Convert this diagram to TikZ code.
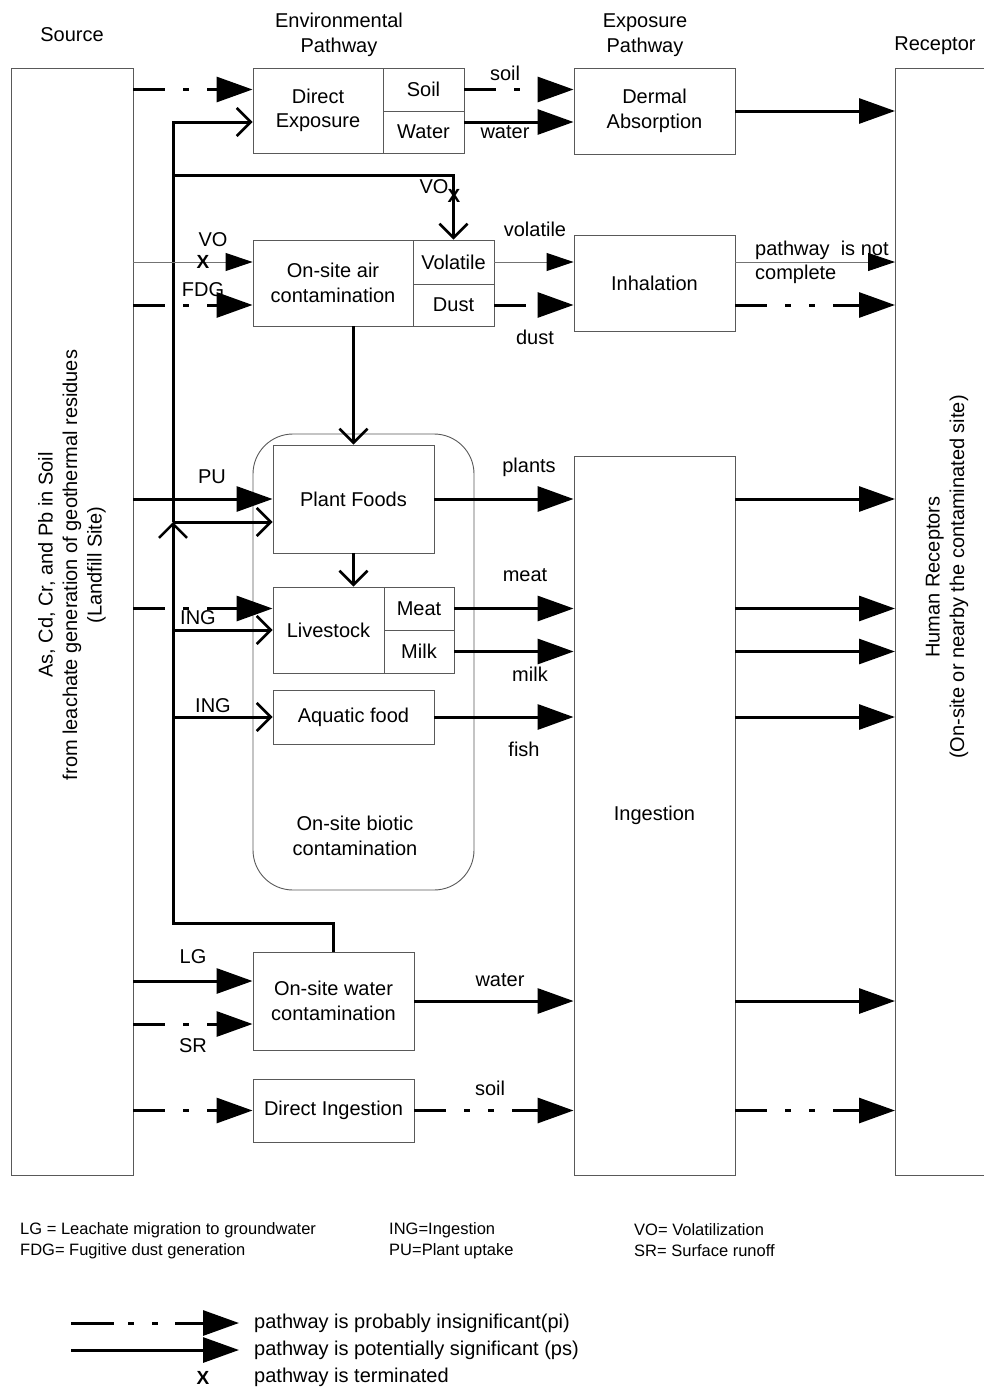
\documentclass[tikz,border=0pt]{standalone}
\usepackage{fontspec}
\setmainfont{Liberation Sans}
\usetikzlibrary{arrows.meta}
\definecolor{bx}{gray}{0.35}
\definecolor{thn}{gray}{0.45}
\newcommand\dfont{\fontsize{20}{24.5}\selectfont}
\newcommand\legfont{\fontsize{16.5}{20}\selectfont}
\newcommand\xfont{\fontsize{19}{20}\selectfont\bfseries}
\begin{document}
\begin{tikzpicture}[x=1pt,y=-1pt,
  box/.style={draw=bx, line width=0.9pt, inner sep=0pt, align=center, font=\dfont},
  lbl/.style={inner sep=0pt, align=center, font=\dfont},
  leg/.style={inner sep=0pt, anchor=west, font=\legfont},
  xmark/.style={inner sep=0pt, font=\xfont},
  ps/.style={line width=3pt, -{Triangle[length=36pt,width=25pt]}},
  pi/.style={ps, dash pattern=on 32pt off 18pt on 6pt off 18pt},
  pitwo/.style={ps, dash pattern=on 32pt off 18pt on 6pt off 18pt on 6pt off 18pt},
  thinarr/.style={line width=1pt, draw=thn, -{Triangle[length=27pt,width=18pt,color=black]}},
  openarr/.style={line width=3pt, line join=miter, -{Straight Barb[length=14pt,width=28pt,line width=2.6pt]}},
  plain/.style={line width=3pt, line join=miter}]
\clip (0,0) rectangle (984,1389);

% ---------- headers ----------
\node[lbl] (hsrc) at (72,35) {Source};
\node[lbl] (henv) at (339,35) {Environmental\\Pathway};
\node[lbl] (hexp) at (645,35) {Exposure\\Pathway};
\node[lbl] (hrec) at (935,46) {Receptor};

% ---------- source and receptor ----------
\node[box, minimum width=122pt, minimum height=1107pt] (src) at (72,621.5) {};
\node[lbl, rotate=90] (srctxt) at (72,565) {As, Cd, Cr, and Pb in Soil\\from leachate generation of geothermal residues\\(Landfill Site)};
\node[box, minimum width=200pt, minimum height=1107pt, anchor=north west] (rec) at (895,68) {};
\node[lbl, rotate=90, text depth=0pt] (rectxt) at (945,577) {Human Receptors\\(On-site or nearby the contaminated site)};

% ---------- environmental pathway boxes ----------
\node[box, minimum width=130pt, minimum height=85pt] (deL) at (318,110.5) {Direct\\Exposure};
\node[box, minimum width=81pt, minimum height=43pt] (deS) at (423.5,89.5) {Soil};
\node[box, minimum width=81pt, minimum height=42pt] (deW) at (423.5,132) {Water};

\node[box, minimum width=160pt, minimum height=86pt] (airL) at (333,283) {On-site air\\contamination};
\node[box, minimum width=81pt, minimum height=44pt] (airV) at (453.5,262) {Volatile};
\node[box, minimum width=81pt, minimum height=42pt] (airD) at (453.5,305) {Dust};

\node[box, rounded corners=40pt, minimum width=221pt, minimum height=456pt] (bio) at (363.5,662) {};
\node[lbl] (biotxt) at (355,836) {On-site biotic\\contamination};
\node[box, minimum width=161pt, minimum height=108pt] (pf) at (353.5,499) {Plant Foods};
\node[box, minimum width=111pt, minimum height=86pt] (lsL) at (328.5,630) {Livestock};
\node[box, minimum width=70pt, minimum height=43pt] (lsM) at (419,608.5) {Meat};
\node[box, minimum width=70pt, minimum height=43pt] (lsK) at (419,651.5) {Milk};
\node[box, minimum width=161pt, minimum height=54pt] (aq) at (353.5,717) {Aquatic food};

\node[box, minimum width=161pt, minimum height=98pt] (wc) at (333.5,1001) {On-site water\\contamination};
\node[box, minimum width=161pt, minimum height=63pt] (di) at (333.5,1110.5) {Direct Ingestion};

% ---------- exposure pathway boxes ----------
\node[box, minimum width=161pt, minimum height=86pt] (da) at (654.5,111) {Dermal\\Absorption};
\node[box, minimum width=161pt, minimum height=96pt] (inh) at (654.5,283) {Inhalation};
\node[box, minimum width=161pt, minimum height=719pt] (ing) at (654.5,815.5) {Ingestion};

% ---------- helper coordinates ----------
\coordinate (vx) at (173,0);
\coordinate (r122) at (0,122);
\coordinate (r175) at (0,175);
\coordinate (r522) at (0,522);
\coordinate (r923) at (0,923);
\coordinate (r981) at (0,981);
\coordinate (r1024) at (0,1024);

% ---------- groundwater / transfer line ----------
\draw[openarr] (wc.north) -- (wc.north |- r923) -- (vx |- r923) -- (vx |- r522);
\draw[openarr] (vx |- r522) -- (vx |- r122) -- (deL.west |- r122);
\draw[openarr] (vx |- r175) -- (airV.north |- r175) -- (airV.north);
\draw[openarr] (vx |- r522) -- (pf.west |- r522);
\draw[openarr] (vx |- lsL) -- (lsL.west);
\draw[openarr] (vx |- aq) -- (aq.west);
\node[xmark] (x1) at (454,196) {X};
\node[lbl] (lvo1) at (434,187) {VO};

% ---------- source -> environmental pathway ----------
\draw[pi] (src.east |- deS) -- (deS -| deL.west);
\draw[thinarr] (src.east |- airV) -- (airV -| airL.west);
\node[xmark] (x2) at (203,262) {X};
\node[lbl] (lvo2) at (213,240) {VO};
\draw[pi] (src.east |- airD) -- (airD -| airL.west);
\node[lbl] (lfdg) at (203,290) {FDG};
\draw[ps] (src.east |- pf) -- (pf.west);
\node[lbl] (lpu) at (212,477) {PU};
\draw[pi] (src.east |- lsM) -- (lsM -| lsL.west);
\node[lbl] (ling1) at (198,618) {ING};
\node[lbl] (ling2) at (213,706) {ING};
\draw[ps] (src.east |- r981) -- (wc.west |- r981);
\node[lbl] (llg) at (193,957) {LG};
\draw[pi] (src.east |- r1024) -- (wc.west |- r1024);
\node[lbl] (lsr) at (193,1046) {SR};
\draw[pi] (src.east |- di) -- (di.west);

% ---------- internal ----------
\draw[openarr] (pf.north |- airL.south) -- (pf.north);
\draw[openarr] (pf.south) -- (pf.south |- lsL.north);

% ---------- environmental -> exposure ----------
\draw[pi] (deS.east) -- (deS -| da.west);
\node[lbl] (lsoil1) at (505,73) {soil};
\draw[ps] (deW.east |- r122) -- (da.west |- r122);
\node[lbl] (lwater1) at (505,132) {water};
\draw[thinarr] (airV.east) -- (airV -| inh.west);
\node[lbl] (lvol) at (535,229) {volatile};
\draw[pi] (airD.east) -- (airD -| inh.west);
\node[lbl] (ldust) at (535,337) {dust};
\draw[ps] (pf.east) -- (pf -| ing.west);
\node[lbl] (lplants) at (529,467) {plants};
\draw[ps] (lsM.east) -- (lsM -| ing.west);
\node[lbl] (lmeat) at (525,575) {meat};
\draw[ps] (lsK.east) -- (lsK -| ing.west);
\node[lbl] (lmilk) at (530,674) {milk};
\draw[ps] (aq.east) -- (aq -| ing.west);
\node[lbl] (lfish) at (524,749) {fish};
\draw[ps] (wc.east) -- (wc -| ing.west);
\node[lbl] (lwater2) at (500,980) {water};
\draw[pitwo] (di.east) -- (di -| ing.west);
\node[lbl] (lsoil2) at (490,1088) {soil};

% ---------- exposure -> receptor ----------
\draw[ps] (da.east) -- (da -| rec.west);
\draw[thinarr] (airV -| inh.east) -- (airV -| rec.west);
\node[lbl, anchor=west, align=left] (lnc) at (755,262.5) {pathway\ \ is not\\complete};
\draw[pitwo] (airD -| inh.east) -- (airD -| rec.west);
\draw[ps] (pf -| ing.east) -- (pf -| rec.west);
\draw[ps] (lsM -| ing.east) -- (lsM -| rec.west);
\draw[ps] (lsK -| ing.east) -- (lsK -| rec.west);
\draw[ps] (aq -| ing.east) -- (aq -| rec.west);
\draw[ps] (wc -| ing.east) -- (wc -| rec.west);
\draw[pitwo] (di -| ing.east) -- (di -| rec.west);

% ---------- legend ----------
\node[leg] (g1) at (20,1230) {LG = Leachate migration to groundwater};
\node[leg] (g2) at (20,1251) {FDG= Fugitive dust generation};
\node[leg] (g3) at (389,1230) {ING=Ingestion};
\node[leg] (g4) at (389,1251) {PU=Plant uptake};
\node[leg] (g5) at (634,1230) {VO= Volatilization};
\node[leg] (g6) at (634,1251) {SR= Surface runoff};

\node[leg, font=\dfont] (t1) at (254,1323) {pathway is probably insignificant(pi)};
\node[leg, font=\dfont] (t2) at (254,1350) {pathway is potentially significant (ps)};
\node[leg, font=\dfont] (t3) at (254,1377) {pathway is terminated};
\coordinate (a1s) at (71,1323);
\coordinate (a2s) at (71,1350);
\draw[ps, dash pattern=on 43pt off 14pt on 6pt off 18pt on 6pt off 17pt] (a1s) -- ([xshift=-15pt]t1.west);
\draw[ps] (a2s) -- ([xshift=-15pt]t2.west);
\node[xmark] (x3) at (203,1378) {X};
\end{tikzpicture}
\end{document}
